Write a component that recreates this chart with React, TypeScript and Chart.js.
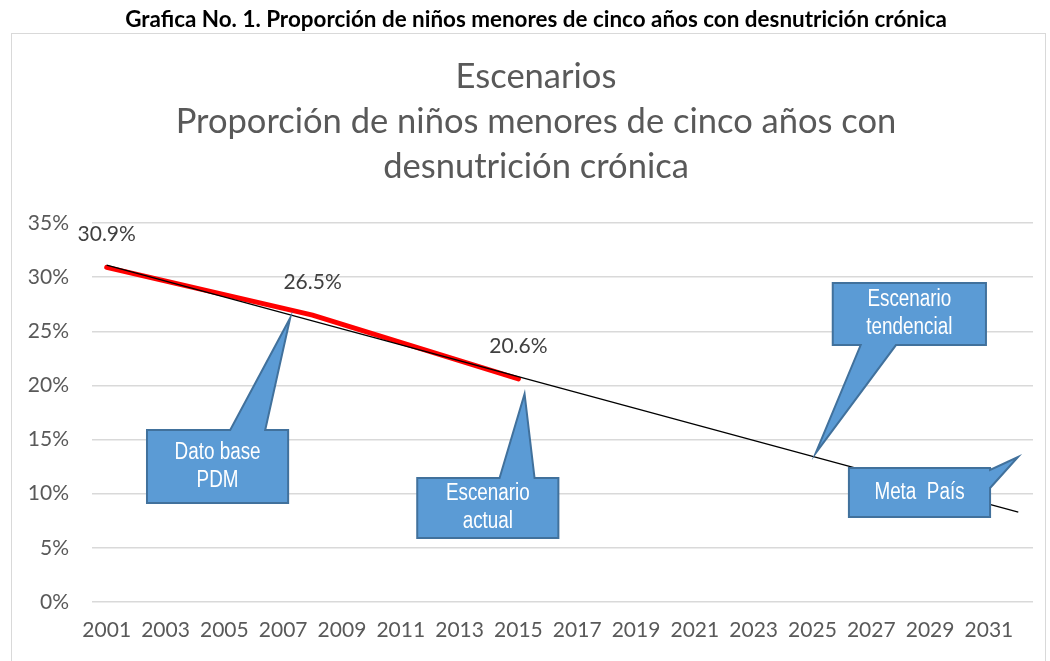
import React, { useEffect, useRef } from "react";
import { Chart, registerables } from "chart.js";

Chart.register(...registerables);

// ---------- data ----------
const tickYears = [2001, 2003, 2005, 2007, 2009, 2011, 2013, 2015, 2017, 2019, 2021, 2023, 2025, 2027, 2029, 2031];
const actualYears = [2001, 2008, 2015];
const actualValues = [30.9, 26.5, 20.6];
const trendYears = [2001, 2032];
const trendValues = [31.1, 8.3];
const yTicks = [0, 5, 10, 15, 20, 25, 30, 35];

const headingText = "Grafica No. 1. Proporción de niños menores de cinco años con desnutrición crónica";
const titleLines = ["Escenarios", "Proporción de niños menores de cinco años con", "desnutrición crónica"];
const calloutTexts = [["Dato base", "PDM"], ["Escenario", "actual"], ["Escenario", "tendencial"], ["Meta  País"]];

// ---------- callout geometry (data space: year, percent) ----------
type Callout = {
  box: [number, number, number, number]; // x0 year, x1 year, top %, bottom %
  side: "top" | "bottom" | "right";
  base: [number, number]; // along edge (years for top/bottom, % for right)
  tip: [number, number];
};
const calloutLayout: Callout[] = [
  { box: [2002.37, 2007.17, 15.88, 9.14], side: "top", base: [2005.2, 2006.39], tip: [2007.24, 26.23] },
  { box: [2011.56, 2016.36, 11.45, 5.91], side: "top", base: [2014.36, 2015.55], tip: [2015.21, 19.21] },
  { box: [2025.69, 2030.9, 29.46, 23.73], side: "bottom", base: [2026.64, 2027.84], tip: [2025.11, 13.76] },
  { box: [2026.24, 2031.04, 12.37, 7.85], side: "right", base: [12.19, 10.53], tip: [2031.99, 13.39] },
];

const FONT = "Lato, 'Open Sans', sans-serif";
const GRAY_TEXT = "#595959";
const TICK_SIZE = 21;

function fitSize(ctx: CanvasRenderingContext2D, text: string, width: number, weight: string, family: string) {
  ctx.font = `${weight} 100px ${family}`;
  const w = ctx.measureText(text).width;
  return (100 * width) / w;
}

const decorPlugin = {
  id: "decor",
  beforeDraw(chart: any) {
    const ctx: CanvasRenderingContext2D = chart.ctx;
    ctx.save();
    ctx.fillStyle = "#ffffff";
    ctx.fillRect(0, 0, chart.width, chart.height);
    // frame
    ctx.strokeStyle = "#D9D9D9";
    ctx.lineWidth = 1;
    ctx.strokeRect(11.5, 33.5, 1034, 700);
    // heading
    const hs = fitSize(ctx, headingText, 822, "bold", FONT);
    ctx.font = `bold ${hs}px ${FONT}`;
    ctx.fillStyle = "#000000";
    ctx.textAlign = "center";
    ctx.textBaseline = "alphabetic";
    ctx.fillText(headingText, 536, 27);
    // title
    const ts = fitSize(ctx, titleLines[1], 721, "normal", FONT);
    ctx.font = `normal ${ts}px ${FONT}`;
    ctx.fillStyle = GRAY_TEXT;
    const baselines = [88, 133, 178];
    titleLines.forEach((t, i) => ctx.fillText(t, 536, baselines[i]));
    ctx.restore();
  },
  afterDatasetsDraw(chart: any) {
    const ctx: CanvasRenderingContext2D = chart.ctx;
    const xs = chart.scales.x;
    const ys = chart.scales.y;
    ctx.save();
    // data labels
    ctx.font = `${TICK_SIZE}px ${FONT}`;
    ctx.fillStyle = "#404040";
    ctx.textAlign = "center";
    ctx.textBaseline = "middle";
    actualYears.forEach((yr, i) => {
      const px = xs.getPixelForValue(yr);
      const py = ys.getPixelForValue(actualValues[i]);
      ctx.fillText(actualValues[i].toFixed(1) + "%", px, py - 33);
    });
    // callouts
    calloutLayout.forEach((c, i) => {
      const x0 = xs.getPixelForValue(c.box[0]);
      const x1 = xs.getPixelForValue(c.box[1]);
      const y0 = ys.getPixelForValue(c.box[2]);
      const y1 = ys.getPixelForValue(c.box[3]);
      const tx = xs.getPixelForValue(c.tip[0]);
      const ty = ys.getPixelForValue(c.tip[1]);
      ctx.beginPath();
      if (c.side === "top") {
        const b0 = xs.getPixelForValue(c.base[0]);
        const b1 = xs.getPixelForValue(c.base[1]);
        ctx.moveTo(x0, y0);
        ctx.lineTo(b0, y0);
        ctx.lineTo(tx, ty);
        ctx.lineTo(b1, y0);
        ctx.lineTo(x1, y0);
        ctx.lineTo(x1, y1);
        ctx.lineTo(x0, y1);
      } else if (c.side === "bottom") {
        const b0 = xs.getPixelForValue(c.base[0]);
        const b1 = xs.getPixelForValue(c.base[1]);
        ctx.moveTo(x0, y0);
        ctx.lineTo(x1, y0);
        ctx.lineTo(x1, y1);
        ctx.lineTo(b1, y1);
        ctx.lineTo(tx, ty);
        ctx.lineTo(b0, y1);
        ctx.lineTo(x0, y1);
      } else {
        const b0 = ys.getPixelForValue(c.base[0]);
        const b1 = ys.getPixelForValue(c.base[1]);
        ctx.moveTo(x0, y0);
        ctx.lineTo(x1, y0);
        ctx.lineTo(x1, b0);
        ctx.lineTo(tx, ty);
        ctx.lineTo(x1, b1);
        ctx.lineTo(x1, y1);
        ctx.lineTo(x0, y1);
      }
      ctx.closePath();
      ctx.fillStyle = "#5B9BD5";
      ctx.fill();
      ctx.strokeStyle = "#41719C";
      ctx.lineWidth = 2;
      ctx.lineJoin = "miter";
      ctx.stroke();
      const lines = calloutTexts[i];
      ctx.fillStyle = "#ffffff";
      ctx.font = `23px 'Liberation Sans', Arial, sans-serif`;
      ctx.textAlign = "center";
      ctx.textBaseline = "middle";
      const cx = (x0 + x1) / 2;
      const cy = (y0 + y1) / 2;
      const lh = 28;
      lines.forEach((t, j) => {
        ctx.save();
        ctx.translate(cx, cy + (j - (lines.length - 1) / 2) * lh);
        ctx.scale(0.82, 1);
        ctx.fillText(t, 0, 0);
        ctx.restore();
      });
    });
    ctx.restore();
  },
};

export default function App() {
  const ref = useRef<HTMLCanvasElement | null>(null);
  useEffect(() => {
    if (!ref.current) return;
    const chart = new Chart(ref.current, {
      type: "line",
      data: {
        datasets: [
          {
            label: "Tendencia",
            data: trendYears.map((x, i) => ({ x, y: trendValues[i] })),
            borderColor: "#000000",
            borderWidth: 1.3,
            pointRadius: 0,
            fill: false,
            tension: 0,
          },
          {
            label: "Escenario actual",
            data: actualYears.map((x, i) => ({ x, y: actualValues[i] })),
            borderColor: "#FF0000",
            borderWidth: 5,
            pointRadius: 0,
            fill: false,
            tension: 0,
            borderCapStyle: "round",
          },
        ],
      },
      options: {
        responsive: false,
        animation: false,
        layout: { padding: { top: 223, right: 17, left: 0, bottom: 0 } },
        plugins: {
          legend: { display: false },
          tooltip: { enabled: false },
          title: { display: false },
        },
        scales: {
          x: {
            type: "linear",
            min: 2000.5,
            max: 2032.5,
            afterBuildTicks: (s: any) => {
              s.ticks = tickYears.map((v) => ({ value: v }));
            },
            afterFit: (s: any) => {
              s.height = 59;
            },
            grid: { display: false, drawTicks: false },
            border: { display: false },
            ticks: {
              autoSkip: false,
              maxRotation: 0,
              padding: 16,
              color: GRAY_TEXT,
              font: { family: FONT, size: TICK_SIZE },
              callback: (v: any) => String(v),
            },
          },
          y: {
            min: 0,
            max: 35,
            afterBuildTicks: (s: any) => {
              s.ticks = yTicks.map((v) => ({ value: v }));
            },
            afterFit: (s: any) => {
              s.width = 92;
            },
            grid: { color: "#D9D9D9", lineWidth: 1.5, drawTicks: false },
            border: { display: false },
            ticks: {
              padding: 23,
              color: GRAY_TEXT,
              font: { family: FONT, size: TICK_SIZE },
              callback: (v: any) => v + "%",
            },
          },
        },
      },
      plugins: [decorPlugin],
    } as any);
    return () => chart.destroy();
  }, []);
  return (
    <div style={{ position: "fixed", left: 0, top: 0, width: 1050, height: 661, background: "#fff" }}>
      <canvas ref={ref} width={1050} height={661} style={{ display: "block" }} />
    </div>
  );
}
